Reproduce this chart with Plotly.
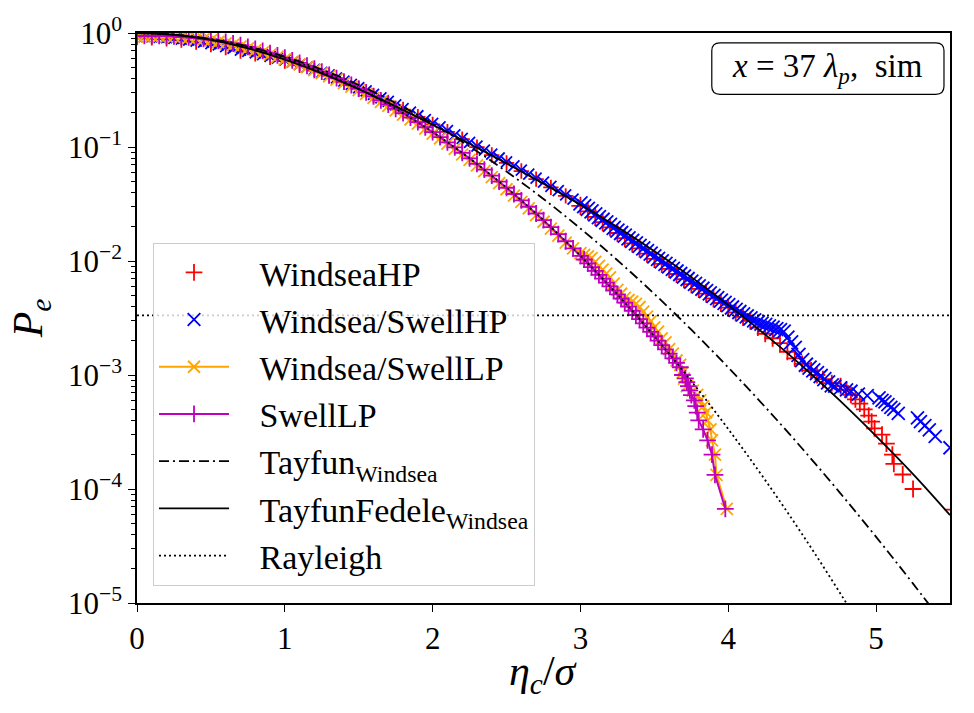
import plotly.graph_objects as go

# ---------------- data ----------------
grid_x = [0.00, 0.05, 0.10, 0.15, 0.20, 0.25, 0.30, 0.35, 0.40, 0.45,
          0.50, 0.55, 0.60, 0.65, 0.70, 0.75, 0.80, 0.85, 0.90, 0.95,
          1.00, 1.05, 1.10, 1.15, 1.20, 1.25, 1.30, 1.35, 1.40, 1.45,
          1.50, 1.55, 1.60, 1.65, 1.70, 1.75, 1.80, 1.85, 1.90, 1.95,
          2.00, 2.05, 2.10, 2.15, 2.20, 2.25, 2.30, 2.35, 2.40, 2.45,
          2.50, 2.55, 2.60, 2.65, 2.70, 2.75, 2.80, 2.85, 2.90, 2.95]

# Windsea/SwellHP (blue x)
blue_grid_p = [.930, .929, .925, .918, .909, .897, .884, .868, .850, .830,
               .808, .785, .761, .735, .709, .689, .669, .647, .625, .602,
               .579, .555, .531, .502, .479, .451, .429, .403, .378, .354,
               .331, .310, .289, .270, .251, .234, .217, .202, .188, .174,
               .161, .150, .139, .128, .119, .110, .1016, .0938, .0867, .0801,
               .0740, .0682, .0628, .0579, .0534, .0491, .0451, .0414, .0381, .0349]
blue_dense_x = [3.000, 3.025, 3.050, 3.075, 3.100, 3.125, 3.150, 3.175, 3.200, 3.225,
                3.250, 3.275, 3.300, 3.325, 3.350, 3.375, 3.400, 3.425, 3.450, 3.475,
                3.500, 3.525, 3.550, 3.575, 3.600, 3.625, 3.650, 3.675, 3.700, 3.725,
                3.750, 3.775, 3.800, 3.825, 3.850, 3.875, 3.900, 3.925, 3.950, 3.975,
                4.000, 4.025, 4.050, 4.075, 4.100, 4.125, 4.150, 4.175, 4.200, 4.225,
                4.250, 4.275, 4.300, 4.325, 4.350, 4.375, 4.400, 4.425, 4.450, 4.475,
                4.500, 4.525, 4.550, 4.575, 4.600, 4.625, 4.650, 4.675, 4.700]
blue_dense_p = [.0320, .0303, .0287, .0272, .0257, .0243, .0230, .0218, .0207, .0195,
                .0185, .0176, .0167, .0158, .0150, .0143, .0136, .0129, .0122, .0116,
                .0110, .01045, .00993, .00944, .00897, .00852, .00809, .00769, .00731, .00695,
                .00660, .00629, .00600, .00571, .00545, .00520, .00495, .00472, .00450, .00429,
                .00410, .00391, .00373, .00357, .00340, .00327, .00314, .00302, .00290, .00282,
                .00275, .00267, .00260, .00253, .00247, .00240, .00213, .00193, .00173, .00150,
                .00135, .00123, .00116, .00110, .00104, .00098, .00092, .00086, .00081]
blue_tail_x = [4.72, 4.76, 4.80, 4.83, 4.88, 4.94, 5.02, 5.04, 5.06, 5.08,
               5.10, 5.12, 5.15, 5.28, 5.30, 5.33, 5.36, 5.40, 5.50]
blue_tail_p = [8.0e-4, 7.7e-4, 7.4e-4, 7.2e-4, 6.8e-4, 6.6e-4, 6.3e-4, 6.0e-4, 5.8e-4, 5.5e-4,
               5.2e-4, 5.0e-4, 4.6e-4, 4.2e-4, 3.9e-4, 3.6e-4, 3.3e-4, 2.9e-4, 2.3e-4]

# WindseaHP (red +)
red_grid_x = [0.0, 0.1, 0.2, 0.3, 0.4, 0.5, 0.6, 0.7, 0.8, 0.9,
              1.0, 1.1, 1.2, 1.3, 1.4, 1.5, 1.6, 1.7, 1.8, 1.9,
              2.0, 2.1, 2.2, 2.3, 2.4, 2.5, 2.6, 2.7, 2.8, 2.9]
red_grid_p = [.911, .907, .891, .866, .833, .792, .746, .695, .656, .613,
              .567, .520, .469, .420, .370, .324, .283, .246, .213, .184,
              .158, .136, .117, .0996, .0850, .0725, .0615, .0523, .0442, .0373]
red_dense_x = [3.00, 3.05, 3.10, 3.15, 3.20, 3.25, 3.30, 3.35, 3.40, 3.45, 3.50, 3.55,
               3.60, 3.65, 3.70, 3.75, 3.80, 3.85, 3.90, 3.95, 4.00, 4.05, 4.10, 4.15]
red_dense_p = [.0304, .0273, .0244, .0219, .0197, .0176, .0159, .0143, .0129, .0116, .01045, .00943,
               .00852, .00769, .00694, .00627, .00570, .00518, .00470, .00428, .00390, .00354, .00323, .00298]
red_tail_x = [4.20, 4.25, 4.30, 4.35, 4.40, 4.45, 4.50, 4.56, 4.60, 4.64, 4.70, 4.76, 4.80, 4.83,
              4.86, 4.89, 4.92, 4.95, 4.97, 4.99, 5.04, 5.07, 5.11, 5.12, 5.18, 5.25, 5.52]
red_tail_p = [2.6e-3, 2.3e-3, 2.1e-3, 1.9e-3, 1.6e-3, 1.4e-3, 1.25e-3, 1.1e-3, 1.0e-3, 9.2e-4,
              8.5e-4, 8.0e-4, 7.4e-4, 6.7e-4, 6.1e-4, 5.6e-4, 5.0e-4, 4.4e-4, 3.9e-4, 3.4e-4,
              3.0e-4, 2.5e-4, 2.0e-4, 1.66e-4, 1.34e-4, 1.0e-4, 6.6e-5]

# Windsea/SwellLP (orange) and SwellLP (magenta)
orange_grid_p = [.930, .935, .937, .937, .935, .930, .920, .910, .897, .880,
                 .860, .834, .810, .785, .759, .732, .704, .676, .647, .618,
                 .588, .559, .530, .501, .472, .444, .417, .390, .364, .339,
                 .315, .292, .270, .249, .229, .210, .192, .175, .160, .145,
                 .131, .119, .107, .0961, .0862, .0772, .0689, .0613, .0544, .0482,
                 .0426, .0375, .0330, .0290, .0253, .0221, .0192, .0167, .0145, .0129]
magenta_grid_p = [.940, .944, .945, .944, .941, .935, .927, .917, .905, .890,
                  .874, .855, .835, .810, .783, .755, .726, .697, .667, .637,
                  .607, .576, .546, .516, .487, .458, .430, .402, .375, .350,
                  .325, .301, .278, .256, .236, .216, .198, .181, .165, .149,
                  .135, .122, .110, .0991, .0889, .0796, .0710, .0632, .0561, .0497,
                  .0439, .0387, .0340, .0299, .0261, .0228, .0198, .0172, .0149, .0129]
lp_dense_x = [3.000, 3.025, 3.050, 3.075, 3.100, 3.125, 3.150, 3.175, 3.200, 3.225,
              3.250, 3.275, 3.300, 3.325, 3.350, 3.375, 3.400, 3.425, 3.450, 3.475,
              3.500, 3.525, 3.550, 3.575, 3.600, 3.625, 3.650, 3.675]
orange_dense_p = [.0117, .0113, .0110, .0106, .00983, .00908, .00840, .00776, .00718, .00634,
                  .00559, .00516, .00475, .00455, .00440, .00420, .00395, .00360, .00325, .00295,
                  .00262, .00240, .00210, .00193, .00169, .00154, .00134, .00123]
magenta_dense_p = [.01111, .01031, .00955, .00885, .00819, .00757, .00700, .00647, .00598, .00551,
                   .005086, .00469, .00432, .00398, .00366, .00336, .00309, .00284, .00260, .00239,
                   .002187, .00200, .00183, .00168, .00154, .00140, .00128, .00117]
orange_tail_x = [3.69, 3.70, 3.72, 3.76, 3.79, 3.81, 3.83, 3.85, 3.86, 3.88, 3.89, 3.91, 3.92, 3.99]
orange_tail_p = [1.05e-3, 9.3e-4, 8.0e-4, 7.3e-4, 6.7e-4, 6.0e-4, 5.3e-4, 4.7e-4, 4.0e-4,
                 3.33e-4, 2.67e-4, 2.0e-4, 1.33e-4, 6.7e-5]
magenta_tail_x = [3.69, 3.71, 3.72, 3.73, 3.74, 3.75, 3.77, 3.78, 3.79, 3.80, 3.83, 3.86, 3.89, 3.91, 3.98]
magenta_tail_p = [1.0e-3, 9.33e-4, 8.67e-4, 8.0e-4, 7.33e-4, 6.67e-4, 6.0e-4, 5.33e-4, 4.67e-4,
                  4.0e-4, 3.33e-4, 2.67e-4, 2.0e-4, 1.33e-4, 6.7e-5]

# theoretical curves
theory_x = [0.0, 0.25, 0.5, 0.75, 1.0, 1.25, 1.5, 1.75, 2.0, 2.25, 2.5, 2.75,
            3.0, 3.25, 3.5, 3.75, 4.0, 4.25, 4.5, 4.75, 5.0, 5.25, 5.5]
tayfun_p = [1.0, .9696, .8851, .7622, .6204, .4782, .3497, .2430, .1607, .1013, .06091, .03502,
            .01927, .01016, .005139, .002495, .001163, 5.23e-4, 2.265e-4, 9.45e-5, 3.80e-5, 1.478e-5, 5.56e-6]
tayfun_fedele_p = [1.0, .9649, .8689, .7335, .5844, .4426, .3218, .2269, .1567, .1067, .0718, .04771,
                   .03114, .01982, .01220, .00722, .00410, .00226, .00120, 6.04e-4, 2.91e-4, 1.35e-4, 5.9e-5]
rayleigh_p = [1.0, .9692, .8825, .7548, .6065, .4578, .3247, .2163, .1353, .07956, .04394, .02279,
              .01111, .005086, .002187, 8.84e-4, 3.355e-4, 1.196e-4, 4.01e-5, 1.26e-5, 3.73e-6, 1.03e-6, 2.7e-7]

threshold_x = [0.0, 5.5]
threshold_p = [3.33e-3, 3.33e-3]

x_ticks = [0, 1, 2, 3, 4, 5]
y_ticks = [1e-5, 1e-4, 1e-3, 1e-2, 1e-1, 1e0]
y_ticktext = ["10<sup>−5</sup>", "10<sup>−4</sup>", "10<sup>−3</sup>",
              "10<sup>−2</sup>", "10<sup>−1</sup>", "10<sup>0</sup>"]
y_minor = [m * 10.0 ** e for e in range(-5, 0) for m in range(2, 10)]

FONT = "Liberation Serif, Times New Roman, DejaVu Serif, serif"
ORANGE = "#FFA500"
MAGENTA = "#BF00BF"
PAD = "\u00a0\u00a0\u00a0"

blue_x = grid_x + blue_dense_x + blue_tail_x
blue_p = blue_grid_p + blue_dense_p + blue_tail_p
blue_sizes = [11] * len(grid_x) + [14] * len(blue_dense_x) + [13] * len(blue_tail_x)
red_x = red_grid_x + red_dense_x + red_tail_x
red_p = red_grid_p + red_dense_p + red_tail_p
red_sizes = [11] * len(red_grid_x) + [13] * len(red_dense_x) + [12] * len(red_tail_x)

fig = go.Figure()

fig.add_trace(go.Scatter(
    x=red_x, y=red_p, mode="markers", name=PAD + "WindseaHP", legendgroup="a",
    marker=dict(symbol="cross-thin", size=red_sizes, opacity=1, color="red",
                line=dict(color="red", width=1.8))))
fig.add_trace(go.Scatter(
    x=blue_x, y=blue_p, mode="markers", name=PAD + "Windsea/SwellHP", legendgroup="b",
    marker=dict(symbol="x-thin", size=blue_sizes, opacity=1, color="blue",
                line=dict(color="blue", width=1.8))))
fig.add_trace(go.Scatter(
    x=grid_x + lp_dense_x + orange_tail_x, y=orange_grid_p + orange_dense_p + orange_tail_p,
    mode="lines+markers", name=PAD + "Windsea/SwellLP", legendgroup="c",
    line=dict(color=ORANGE, width=2),
    marker=dict(symbol="x-thin", size=12, opacity=1, color=ORANGE, line=dict(color=ORANGE, width=1.8))))
fig.add_trace(go.Scatter(
    x=grid_x + lp_dense_x + magenta_tail_x, y=magenta_grid_p + magenta_dense_p + magenta_tail_p,
    mode="lines+markers", name=PAD + "SwellLP", legendgroup="d",
    line=dict(color=MAGENTA, width=2),
    marker=dict(symbol="cross-thin", size=12, opacity=1, color=MAGENTA, line=dict(color=MAGENTA, width=1.8))))
fig.add_trace(go.Scatter(
    x=theory_x, y=tayfun_p, mode="lines", name=PAD + "Tayfun<sub>Windsea</sub>", legendgroup="e",
    line=dict(color="black", width=1.8, dash="10px,4px,2px,4px", shape="spline")))
fig.add_trace(go.Scatter(
    x=theory_x, y=tayfun_fedele_p, mode="lines", name=PAD + "TayfunFedele<sub>Windsea</sub>", legendgroup="f",
    line=dict(color="black", width=1.8, shape="spline")))
fig.add_trace(go.Scatter(
    x=theory_x, y=rayleigh_p, mode="lines", name=PAD + "Rayleigh", legendgroup="g",
    line=dict(color="black", width=1.8, dash="2px,3px", shape="spline")))
fig.add_trace(go.Scatter(
    x=threshold_x, y=threshold_p, mode="lines", showlegend=False,
    line=dict(color="black", width=1.8, dash="2px,3px")))

# rounded box for the annotation
x0, x1, y0, y1 = 0.707, 0.9926, 0.8925, 0.9827
rx, ry = 0.010, 0.014
path = (f"M {x0+rx},{y0} L {x1-rx},{y0} Q {x1},{y0} {x1},{y0+ry} L {x1},{y1-ry} "
        f"Q {x1},{y1} {x1-rx},{y1} L {x0+rx},{y1} Q {x0},{y1} {x0},{y1-ry} "
        f"L {x0},{y0+ry} Q {x0},{y0} {x0+rx},{y0} Z")
fig.add_shape(type="path", path=path, xref="paper", yref="paper",
              line=dict(color="black", width=1.2), fillcolor="white", layer="above")
fig.add_annotation(x=(x0 + x1) / 2, y=(y0 + y1) / 2, xref="paper", yref="paper",
                   text="<i>x</i> = 37 <i>λ<sub>p</sub></i>,  sim", showarrow=False,
                   font=dict(family=FONT, size=33, color="black"),
                   xanchor="center", yanchor="middle")
# x-axis title
fig.add_annotation(x=0.5, y=-0.125, xref="paper", yref="paper",
                   text="<i>η<sub>c</sub></i>/<i>σ</i>", showarrow=False,
                   font=dict(family=FONT, size=42, color="black"),
                   xanchor="center", yanchor="middle")

fig.update_layout(
    width=974, height=713,
    margin=dict(l=137, r=24, t=26, b=110),
    paper_bgcolor="white", plot_bgcolor="white",
    font=dict(family=FONT, size=31, color="black"),
    showlegend=True,
    legend=dict(x=0.0197, y=0.632, xanchor="left", yanchor="top",
                bgcolor="rgba(255,255,255,0.8)", bordercolor="#cccccc", borderwidth=1,
                font=dict(family=FONT, size=34, color="black"),
                traceorder="grouped", tracegroupgap=0, itemwidth=70),
    xaxis=dict(range=[0, 5.5], tickvals=x_ticks, ticks="outside", ticklen=7, tickwidth=1.3,
               tickcolor="black", showline=True, linecolor="black", linewidth=1.6, mirror=True,
               showgrid=False, zeroline=False,
               tickfont=dict(family=FONT, size=31)),
    yaxis=dict(type="log", range=[-5, 0], tickvals=y_ticks, ticktext=y_ticktext,
               ticks="outside", ticklen=7, tickwidth=1.3, tickcolor="black",
               minor=dict(tickvals=y_minor, ticks="outside", ticklen=4, tickwidth=1, tickcolor="black"),
               showline=True, linecolor="black", linewidth=1.6, mirror=True,
               showgrid=False, zeroline=False,
               tickfont=dict(family=FONT, size=31),
               title=dict(text="<i>P<sub>e</sub></i>", font=dict(family=FONT, size=42), standoff=12)),
)

fig.write_html("out.html")
